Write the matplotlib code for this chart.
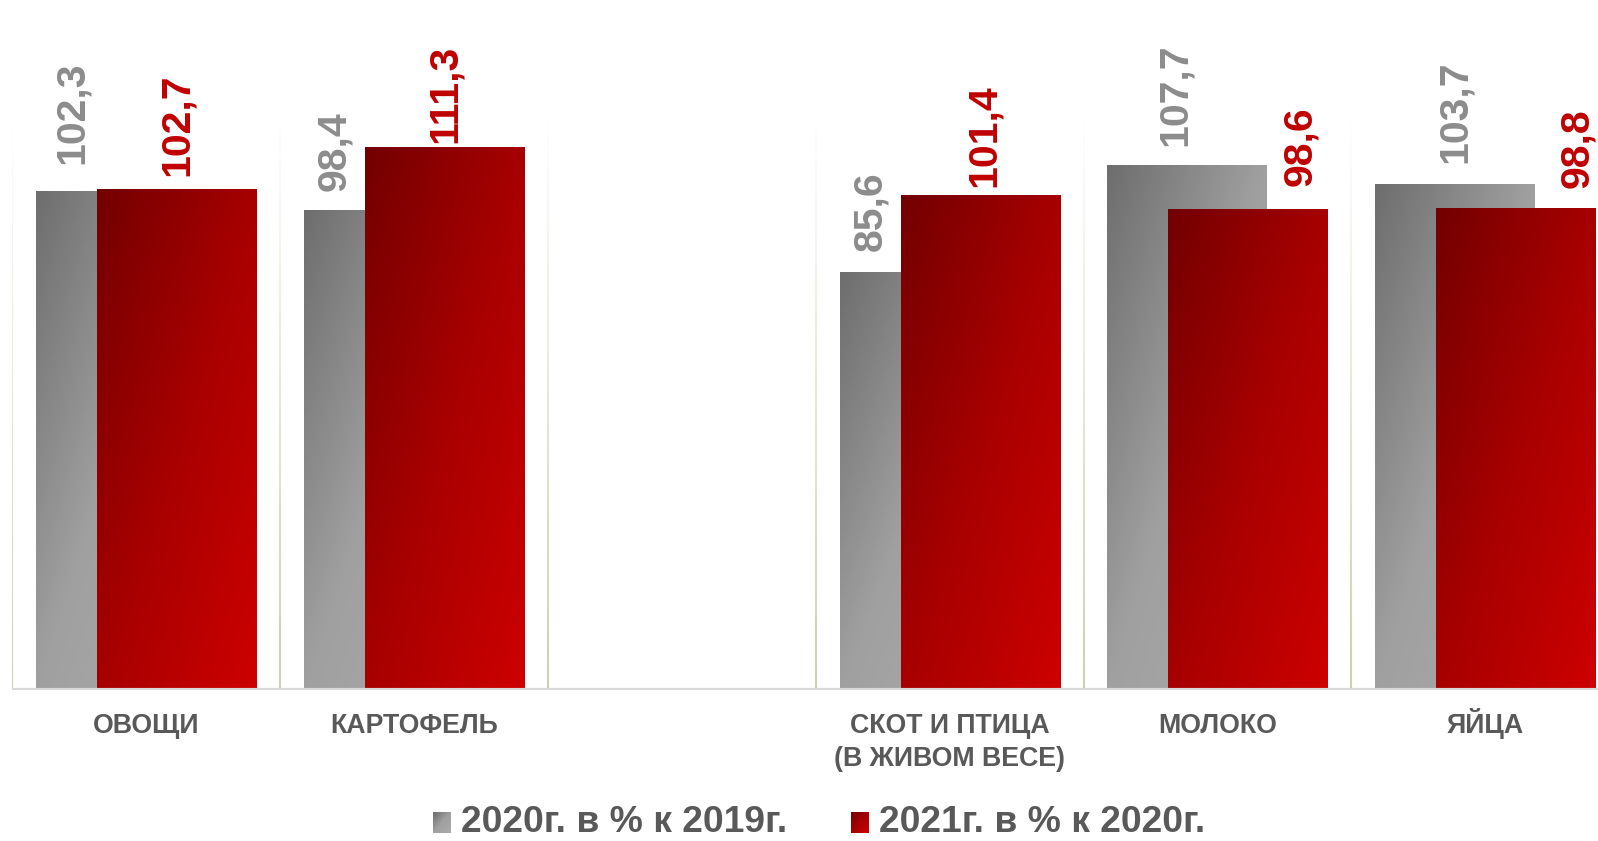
import numpy as np
import matplotlib
matplotlib.use("Agg")
import matplotlib.pyplot as plt
from matplotlib.colors import LinearSegmentedColormap
from matplotlib.collections import LineCollection

plt.rcParams['font.family'] = ['Liberation Sans', 'DejaVu Sans']

# Chart data.
categories = ['ОВОЩИ', 'КАРТОФЕЛЬ', '', 'СКОТ И ПТИЦА\n(В ЖИВОМ ВЕСЕ)', 'МОЛОКО', 'ЯЙЦА']
values_2020 = [102.3, 98.4, np.nan, 85.6, 107.7, 103.7]
values_2021 = [102.7, 111.3, np.nan, 101.4, 98.6, 98.8]
series_names = ['2020г. в % к 2019г.', '2021г. в % к 2020г.']

# Hand placed data labels (offset from bar centre, gap above bar).
grey_label_dx = [-0.164, -0.183, 0, -0.183, -0.046, 0.0]
red_label_dx = [0.0, 0.0, 0, 0.015, 0.194, 0.228]
grey_label_gap = [5.6, 4.0, 0, 4.4, 4.0, 4.4]
red_label_gap = [2.7, 1.0, 0, 1.9, 4.8, 4.2]

grey_cmap = LinearSegmentedColormap.from_list(
    'g', [(0, '#6e6e6e'), (0.5, '#a0a0a0'), (1, '#ababab')])
red_cmap = LinearSegmentedColormap.from_list(
    'r', [(0, '#730000'), (0.5, '#a70000'), (1, '#cd0000')])


def gradient(nx=60, ny=120):
    # Diagonal gradient, dark at top-left, light at bottom-right.
    xx, yy = np.meshgrid(np.linspace(0, 1, nx), np.linspace(0, 1, ny))
    return 0.5 * xx + 0.5 * yy


def fill_bars(ax, bars, cmap, z):
    for b in bars:
        h = b.get_height()
        if np.isnan(h):
            continue
        x0 = b.get_x()
        ax.imshow(gradient(), extent=[x0, x0 + b.get_width(), 0, h],
                  origin='upper', aspect='auto', cmap=cmap, vmin=0, vmax=1,
                  zorder=z, interpolation='bilinear')


fig = plt.figure(figsize=(15.98, 8.41), dpi=100)
ax = fig.add_axes([0.00763, 0.17955, 1.00563, 0.82045])

x = np.arange(len(categories))
width = 0.594
off = 0.114

bars_grey = ax.bar(x - off, values_2020, width, color='none', edgecolor='none')
bars_red = ax.bar(x + off, values_2021, width, color='none', edgecolor='none')
fill_bars(ax, bars_grey, grey_cmap, 2)
fill_bars(ax, bars_red, red_cmap, 3)

# Data labels.
for i in range(len(categories)):
    if np.isnan(values_2020[i]):
        continue
    ax.text(x[i] - off + grey_label_dx[i], values_2020[i] + grey_label_gap[i],
            f"{values_2020[i]:.1f}".replace('.', ','), rotation=90,
            ha='center', va='bottom', fontsize=29.5, fontweight='bold',
            color='#8c8c8c', zorder=5)
    ax.text(x[i] + off + red_label_dx[i], values_2021[i] + red_label_gap[i],
            f"{values_2021[i]:.1f}".replace('.', ','), rotation=90,
            ha='center', va='bottom', fontsize=29.5, fontweight='bold',
            color='#c00000', zorder=5)

# Vertical separators fading towards the top.
n = 40
ys = np.linspace(0, 116, n + 1)
segs, cols = [], []
for bx in np.arange(-0.5, len(categories), 1.0):
    for k in range(n):
        segs.append([(bx, ys[k]), (bx, ys[k + 1])])
        cols.append((0.78, 0.80, 0.66, 0.9 * (1 - k / n)))
ax.add_collection(LineCollection(segs, colors=cols, linewidths=1.5, zorder=1))

# Baseline.
ax.plot([-0.5, 5.5], [0, 0], color='#d9d9d9', lw=3, zorder=4, solid_capstyle='butt')

ax.set_xlim(-0.5, 5.5)
ax.set_ylim(0, 141.6)
ax.set_xticks([])
ax.set_yticks([])
for s in ax.spines.values():
    s.set_visible(False)

# Category labels, every line on its own baseline.
px = 1 / 841 / 0.82045
label_y = -(733 - 690) * px
line_step = 32.6 * px
for xi, cat in zip(x, categories):
    for k, line in enumerate(cat.split('\n')):
        ax.text(xi, label_y - k * line_step, line, transform=ax.get_xaxis_transform(),
                ha='center', va='baseline', fontsize=19.3, fontweight='bold',
                color='#595959')

# Legend drawn by hand with gradient swatches.
legend_items = [(433, 461, grey_cmap), (851, 879, red_cmap)]
for (sx, tx, cm), name in zip(legend_items, series_names):
    sax = fig.add_axes([sx / 1598, 1 - 833 / 841, 18 / 1598, 21 / 841])
    sax.imshow(gradient(20, 20), cmap=cm, vmin=0, vmax=1, aspect='auto',
               interpolation='bilinear')
    sax.set_axis_off()
    fig.text(tx / 1598, 1 - 822 / 841, name, fontsize=26.8, fontweight='bold',
             color='#595959', ha='left', va='center')

fig.savefig('out.png', dpi=100)
